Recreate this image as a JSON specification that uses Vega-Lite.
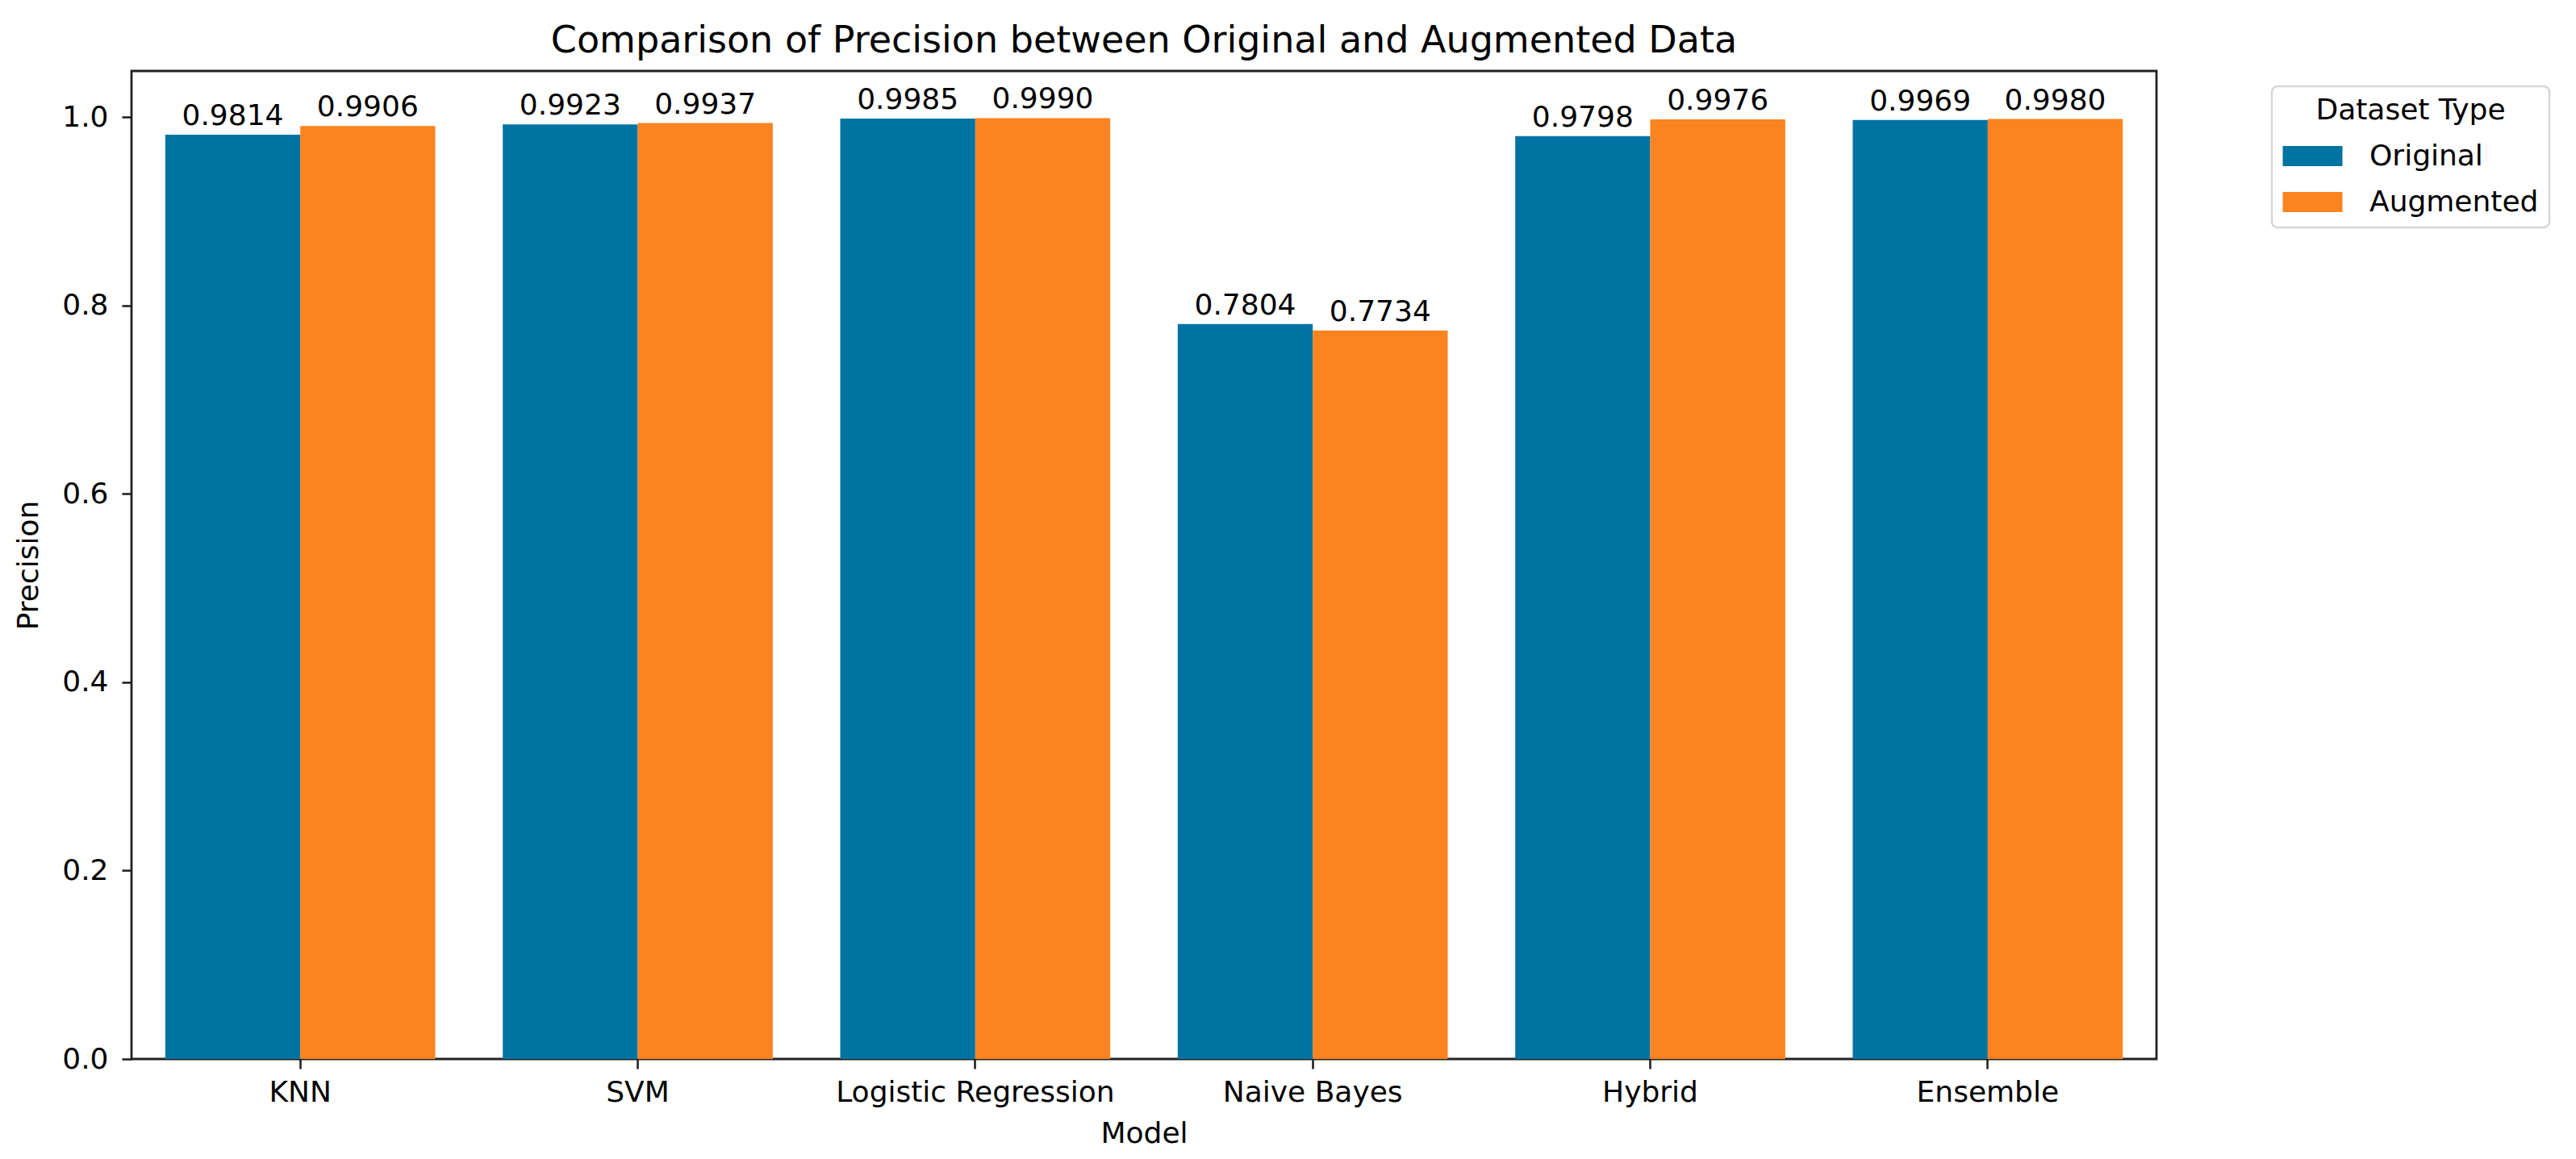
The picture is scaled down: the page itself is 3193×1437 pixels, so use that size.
{
  "$schema": "https://vega.github.io/schema/vega-lite/v6.json",
  "autosize": {"type": "none"},
  "padding": {"left": 163, "top": 88, "right": 520, "bottom": 124},
  "width": 2510,
  "height": 1225,
  "background": "white",
  "title": {
    "text": "Comparison of Precision between Original and Augmented Data",
    "font": "DejaVu Sans",
    "fontSize": 46,
    "fontWeight": "normal",
    "color": "black",
    "anchor": "middle",
    "offset": 13
  },
  "config": {
    "font": "DejaVu Sans",
    "view": {"stroke": "#222222", "strokeWidth": 2.8},
    "legend": {"strokeWidth": 2.5},
    "axis": {
      "labelFont": "DejaVu Sans",
      "labelFontSize": 36,
      "labelColor": "black",
      "labelLimit": 0,
      "titleFont": "DejaVu Sans",
      "titleFontSize": 36,
      "titleFontWeight": "normal",
      "titleColor": "black",
      "tickColor": "#222222",
      "tickWidth": 2.6,
      "tickSize": 12,
      "domain": false,
      "grid": false
    }
  },
  "data": {
    "values": [
      {"Model": "KNN", "Dataset Type": "Original", "Precision": 0.9814},
      {"Model": "KNN", "Dataset Type": "Augmented", "Precision": 0.9906},
      {"Model": "SVM", "Dataset Type": "Original", "Precision": 0.9923},
      {"Model": "SVM", "Dataset Type": "Augmented", "Precision": 0.9937},
      {"Model": "Logistic Regression", "Dataset Type": "Original", "Precision": 0.9985},
      {"Model": "Logistic Regression", "Dataset Type": "Augmented", "Precision": 0.999},
      {"Model": "Naive Bayes", "Dataset Type": "Original", "Precision": 0.7804},
      {"Model": "Naive Bayes", "Dataset Type": "Augmented", "Precision": 0.7734},
      {"Model": "Hybrid", "Dataset Type": "Original", "Precision": 0.9798},
      {"Model": "Hybrid", "Dataset Type": "Augmented", "Precision": 0.9976},
      {"Model": "Ensemble", "Dataset Type": "Original", "Precision": 0.9969},
      {"Model": "Ensemble", "Dataset Type": "Augmented", "Precision": 0.998}
    ]
  },
  "encoding": {
    "x": {
      "field": "Model",
      "type": "nominal",
      "sort": null,
      "scale": {"paddingInner": 0.2, "paddingOuter": 0.1},
      "axis": {"labelAngle": 0, "title": "Model", "labelPadding": 12, "titlePadding": 16}
    },
    "xOffset": {
      "field": "Dataset Type",
      "type": "nominal",
      "sort": ["Original", "Augmented"],
      "scale": {"paddingInner": 0, "paddingOuter": 0}
    },
    "y": {
      "field": "Precision",
      "type": "quantitative",
      "scale": {"domain": [0, 1.049], "nice": false, "zero": true},
      "axis": {"values": [0, 0.2, 0.4, 0.6, 0.8, 1.0], "format": ".1f", "title": "Precision", "labelPadding": 17, "titlePadding": 22}
    }
  },
  "layer": [
    {
      "mark": {"type": "bar"},
      "encoding": {
        "color": {
          "field": "Dataset Type",
          "type": "nominal",
          "sort": ["Original", "Augmented"],
          "scale": {"domain": ["Original", "Augmented"], "range": ["#0173a2", "#fb8320"]},
          "legend": {
            "title": "Dataset Type",
            "orient": "none",
            "legendX": 2653,
            "legendY": 19,
            "titleFont": "DejaVu Sans",
            "titleFontSize": 36,
            "titleFontWeight": "normal",
            "titleColor": "black",
            "titleAnchor": "middle",
            "titleLimit": 0,
            "titlePadding": 19,
            "labelFont": "DejaVu Sans",
            "labelFontSize": 36,
            "labelColor": "black",
            "labelLimit": 0,
            "labelOffset": 52,
            "symbolType": "M-2,-0.68H2V0.68H-2Z",
            "symbolSize": 1369,
            "symbolOffset": 19,
            "symbolStrokeWidth": 0,
            "symbolOpacity": 1,
            "rowPadding": 20,
            "padding": 13,
            "strokeColor": "#d6d6d6",
            "cornerRadius": 7,
            "fillColor": "white"
          }
        }
      }
    },
    {
      "mark": {"type": "text", "baseline": "bottom", "dy": -4, "font": "DejaVu Sans", "fontSize": 36, "color": "black"},
      "encoding": {
        "text": {"field": "Precision", "type": "quantitative", "format": ".4f"}
      }
    }
  ]
}
